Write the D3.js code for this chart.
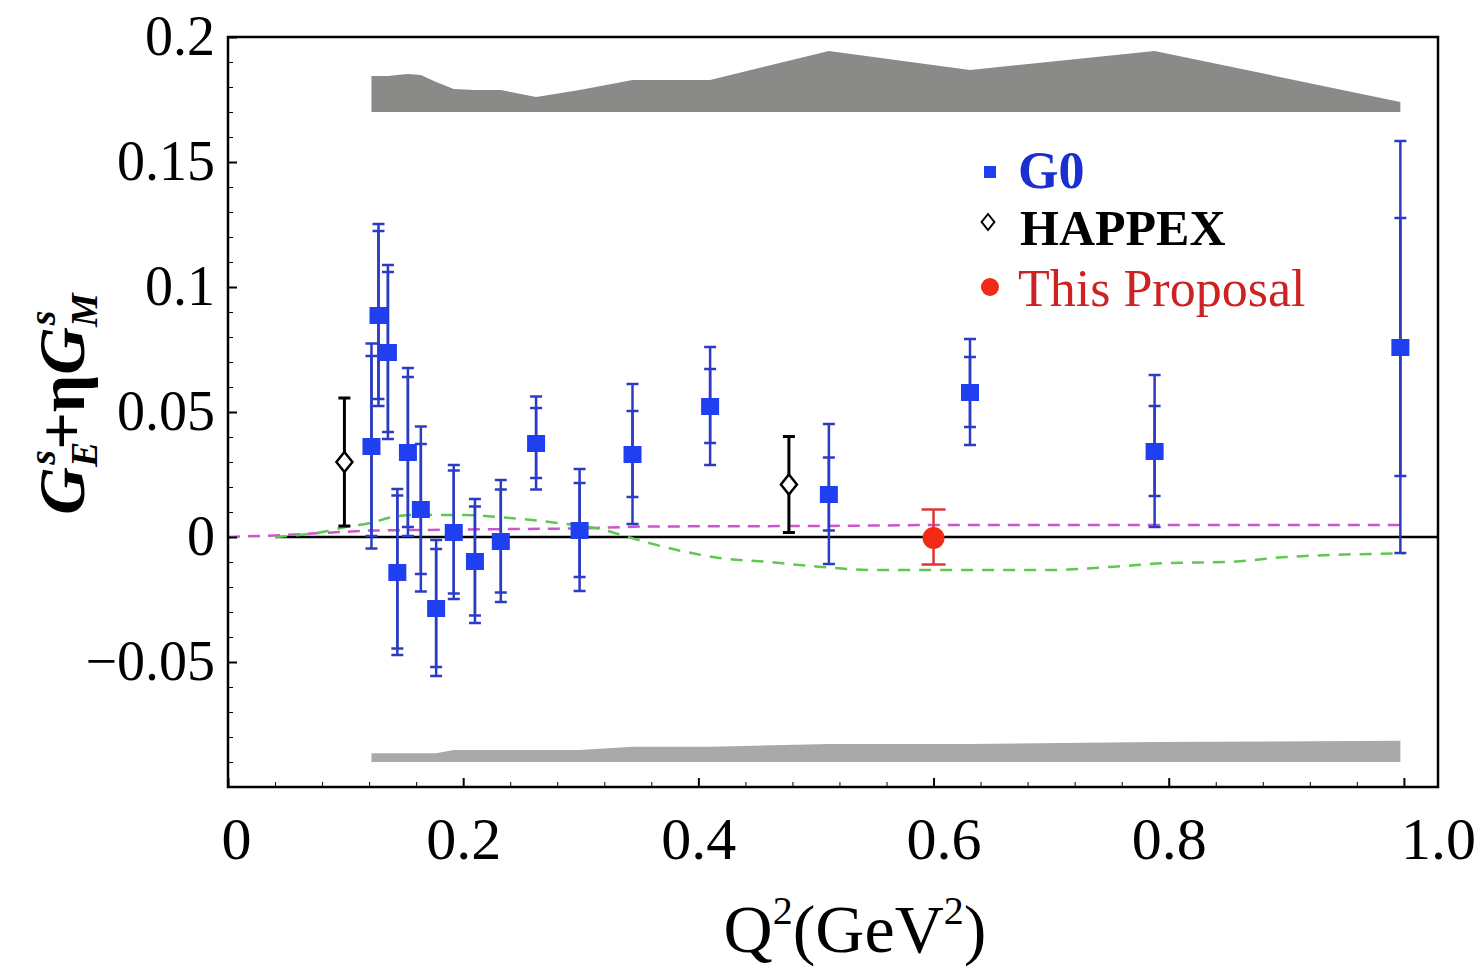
<!DOCTYPE html>
<html>
<head>
<meta charset="utf-8">
<script src="https://cdn.jsdelivr.net/npm/d3@7"></script>
<style>
body { margin: 0; background: #fff; }
text { font-family: "Liberation Serif", "Times New Roman", serif; }
</style>
</head>
<body>
<div class="chart"></div>
<script>
/* global d3 */

// G0 forward angle points
var g0Q    = [0.122, 0.128, 0.136, 0.144, 0.153, 0.164, 0.177, 0.192, 0.210, 0.232, 0.262, 0.299, 0.344, 0.410, 0.511, 0.631, 0.788, 0.997];
var g0Val  = [0.0364, 0.0888, 0.0740, -0.0140, 0.0340, 0.0112, -0.0284, 0.0020, -0.0096, -0.0016, 0.0376, 0.0028, 0.0332, 0.0524, 0.0172, 0.0580, 0.0344, 0.0760];
var g0Stat = [0.0360, 0.0336, 0.0320, 0.0306, 0.0300, 0.0260, 0.0236, 0.0246, 0.0218, 0.0206, 0.0140, 0.0188, 0.0172, 0.0148, 0.0146, 0.0140, 0.0180, 0.0516];
var g0Tot  = [0.0410, 0.0364, 0.0348, 0.0332, 0.0336, 0.0330, 0.0272, 0.0268, 0.0248, 0.0244, 0.0186, 0.0244, 0.0280, 0.0236, 0.0280, 0.0212, 0.0304, 0.0824];

// systematic bands (heights above / below their base)
var topBase = 0.17;
var topBandH = [0.0144, 0.0144, 0.0144, 0.0148, 0.0152, 0.0148, 0.0120, 0.0092, 0.0088, 0.0088, 0.0060, 0.0088, 0.0128, 0.0128, 0.0244, 0.0168, 0.0244, 0.0040];
var botBase = -0.090;
var botBandH = [0.0035, 0.0035, 0.0035, 0.0035, 0.0035, 0.0035, 0.0035, 0.0048, 0.0048, 0.0048, 0.0048, 0.0048, 0.0061, 0.0061, 0.0072, 0.0072, 0.0080, 0.0085];

// HAPPEX
var hapQ = [0.099, 0.477];
var hapVal = [0.030, 0.021];
var hapErr = [0.0256, 0.0192];

// this proposal
var propQ = [0.6];
var propVal = [0.0];
var propErr = [0.011];

// theory curves
var magQ   = [0, 0.04, 0.08, 0.12, 0.2, 0.3, 0.35, 0.5, 0.6, 0.8, 1.0];
var magVal = [0, 0.0006, 0.0016, 0.0026, 0.0030, 0.0034, 0.0042, 0.0044, 0.0048, 0.0048, 0.0048];
var greenQ   = [0.04, 0.08, 0.10, 0.12, 0.14, 0.16, 0.20, 0.24, 0.28, 0.32, 0.34, 0.38, 0.42, 0.46, 0.50, 0.55, 0.60, 0.65, 0.70, 0.75, 0.80, 0.85, 0.90, 0.95, 1.0];
var greenVal = [0, 0.0020, 0.0040, 0.0055, 0.0080, 0.0088, 0.0088, 0.0076, 0.0056, 0.0028, 0.0, -0.0050, -0.0085, -0.0100, -0.0118, -0.0132, -0.0132, -0.0132, -0.0132, -0.0120, -0.0104, -0.0100, -0.0080, -0.0070, -0.0066];
var zeroQ = [0.04, 1.029];

// ticks
var xTicks = [0, 0.2, 0.4, 0.6, 0.8, 1.0];
var yTicks = [-0.05, 0, 0.05, 0.1, 0.15, 0.2];
var legendLabels = ["G0", "HAPPEX", "This Proposal"];

var width = 1484, height = 966;
var svg = d3.select(".chart").append("svg")
  .attr("width", width)
  .attr("height", height);

var x = d3.scaleLinear().domain([0, 1.029]).range([228, 1438]);
var y = d3.scaleLinear().domain([-0.1, 0.2]).range([787, 37]);

// bands
var topArea = d3.area()
  .x(function(d) { return x(d.q); })
  .y0(y(topBase))
  .y1(function(d) { return y(topBase + d.h); });
svg.append("path")
  .datum(g0Q.map(function(q, i) { return {q: q, h: topBandH[i]}; }))
  .attr("d", topArea)
  .attr("fill", "#8a8b89");

var botArea = d3.area()
  .x(function(d) { return x(d.q); })
  .y0(y(botBase))
  .y1(function(d) { return y(botBase + d.h); });
svg.append("path")
  .datum(g0Q.map(function(q, i) { return {q: q, h: botBandH[i]}; }))
  .attr("d", botArea)
  .attr("fill", "#a9a9a9");

// zero line + curves
var line = d3.line()
  .x(function(d) { return x(d.q); })
  .y(function(d) { return y(d.v); });

svg.append("path")
  .datum(zeroQ.map(function(q) { return {q: q, v: 0}; }))
  .attr("d", line)
  .attr("fill", "none")
  .attr("stroke", "black")
  .attr("stroke-width", 2.5);

svg.append("path")
  .datum(magQ.map(function(q, i) { return {q: q, v: magVal[i]}; }))
  .attr("d", line)
  .attr("fill", "none")
  .attr("stroke", "#cc55cc")
  .attr("stroke-width", 2.5)
  .attr("stroke-dasharray", "12,8");

svg.append("path")
  .datum(greenQ.map(function(q, i) { return {q: q, v: greenVal[i]}; }))
  .attr("d", d3.line().curve(d3.curveMonotoneX)
    .x(function(d) { return x(d.q); })
    .y(function(d) { return y(d.v); }))
  .attr("fill", "none")
  .attr("stroke", "#5fc84f")
  .attr("stroke-width", 2.5)
  .attr("stroke-dasharray", "12,9");

// error bar helper
function errBars(g, data, color, lw, capW) {
  g.selectAll(null).data(data).enter().append("line")
    .attr("x1", function(d) { return x(d.q); })
    .attr("x2", function(d) { return x(d.q); })
    .attr("y1", function(d) { return y(d.v + d.e); })
    .attr("y2", function(d) { return y(d.v - d.e); })
    .attr("stroke", color)
    .attr("stroke-width", lw);
  [1, -1].forEach(function(s) {
    g.selectAll(null).data(data).enter().append("line")
      .attr("x1", function(d) { return x(d.q) - capW / 2; })
      .attr("x2", function(d) { return x(d.q) + capW / 2; })
      .attr("y1", function(d) { return y(d.v + s * d.e); })
      .attr("y2", function(d) { return y(d.v + s * d.e); })
      .attr("stroke", color)
      .attr("stroke-width", lw);
  });
}

var g0Outer = g0Q.map(function(q, i) { return {q: q, v: g0Val[i], e: g0Tot[i]}; });
var g0Inner = g0Q.map(function(q, i) { return {q: q, v: g0Val[i], e: g0Stat[i]}; });
var hap = hapQ.map(function(q, i) { return {q: q, v: hapVal[i], e: hapErr[i]}; });
var prop = propQ.map(function(q, i) { return {q: q, v: propVal[i], e: propErr[i]}; });

var gErr = svg.append("g");
errBars(gErr, g0Outer, "#2b3cc4", 2.5, 12);
errBars(gErr, g0Inner, "#2b3cc4", 2.5, 12);
errBars(gErr, hap, "black", 3, 12);
errBars(gErr, prop, "#e03535", 2.5, 24);

// markers
svg.selectAll(".g0").data(g0Outer).enter().append("rect")
  .attr("class", "g0")
  .attr("x", function(d) { return x(d.q) - 9; })
  .attr("y", function(d) { return y(d.v) - 8; })
  .attr("width", 18)
  .attr("height", 17)
  .attr("fill", "#1f3ff0");

var diamond = function(cx, cy, r) {
  return "M" + cx + "," + (cy - r) + "L" + (cx + r * 0.8) + "," + cy +
    "L" + cx + "," + (cy + r) + "L" + (cx - r * 0.8) + "," + cy + "Z";
};
svg.selectAll(".hap").data(hap).enter().append("path")
  .attr("class", "hap")
  .attr("d", function(d) { return diamond(x(d.q), y(d.v), 10); })
  .attr("fill", "white")
  .attr("stroke", "black")
  .attr("stroke-width", 2.5);

svg.selectAll(".prop").data(prop).enter().append("circle")
  .attr("class", "prop")
  .attr("cx", function(d) { return x(d.q); })
  .attr("cy", function(d) { return y(d.v) + 1; })
  .attr("r", 11)
  .attr("fill", "#f02a14");

// axes (inward ticks)
var xMinor = d3.range(0, 1.03, 0.04).filter(function(v) { return Math.abs(v * 5 - Math.round(v * 5)) > 1e-6; });
var yMinor = d3.range(-0.1, 0.2001, 0.01).filter(function(v) { return Math.abs(v * 20 - Math.round(v * 20)) > 1e-6; });

svg.append("g").attr("transform", "translate(0,787)")
  .call(d3.axisBottom(x).tickValues(xMinor).tickSize(-5).tickFormat(""))
  .call(function(g) { g.select(".domain").remove(); });
var xAx = svg.append("g").attr("transform", "translate(0,787)")
  .call(d3.axisBottom(x).tickValues(xTicks).tickSize(-9).tickPadding(29)
    .tickFormat(function(d) { return d === 0 ? "0" : d3.format(".1f")(d); }))
  .call(function(g) { g.select(".domain").remove(); });
xAx.selectAll("text")
  .attr("font-size", 60)
  .attr("font-family", "Liberation Serif")
  .attr("fill", "black")
  .attr("dx", function(d) { return d === 0 ? 8 : (d === 1 ? 34 : (d === 0.6 ? 10 : 0)); });
xAx.selectAll("line").attr("stroke-width", 2);

svg.append("g").attr("transform", "translate(228,0)")
  .call(d3.axisLeft(y).tickValues(yMinor).tickSize(-5).tickFormat(""))
  .call(function(g) { g.select(".domain").remove(); });
var yAx = svg.append("g").attr("transform", "translate(228,0)")
  .call(d3.axisLeft(y).tickValues(yTicks).tickSize(-9).tickPadding(13).tickFormat(d3.format("~g")))
  .call(function(g) { g.select(".domain").remove(); });
yAx.selectAll("text").attr("font-size", 56).attr("font-family", "Liberation Serif").attr("fill", "black");
yAx.selectAll("line").attr("stroke-width", 2);

// frame
svg.append("rect")
  .attr("x", 228).attr("y", 37)
  .attr("width", 1210).attr("height", 750)
  .attr("fill", "none")
  .attr("stroke", "black")
  .attr("stroke-width", 2.5);

// legend
var leg = svg.append("g");
leg.append("rect").attr("x", 984).attr("y", 166).attr("width", 12).attr("height", 12).attr("fill", "#1f3ff0");
leg.append("path").attr("d", diamond(988, 222, 8)).attr("fill", "white").attr("stroke", "black").attr("stroke-width", 2);
leg.append("circle").attr("cx", 990).attr("cy", 287).attr("r", 9).attr("fill", "#f02a14");
leg.append("text").attr("x", 1018).attr("y", 188).attr("font-size", 52).attr("font-weight", "bold")
  .attr("fill", "#1b2fd0").text(legendLabels[0]);
leg.append("text").attr("x", 1020).attr("y", 245).attr("font-size", 50).attr("font-weight", "bold")
  .attr("fill", "black").text(legendLabels[1]);
leg.append("text").attr("x", 1018).attr("y", 306).attr("font-size", 52)
  .attr("fill", "#cc2222").text(legendLabels[2]);

// axis titles
var xt = svg.append("text")
  .attr("x", 855).attr("y", 952)
  .attr("text-anchor", "middle")
  .attr("font-size", 68);
xt.append("tspan").text("Q");
xt.append("tspan").attr("font-size", 40).attr("dy", -28).text("2");
xt.append("tspan").attr("dy", 28).text("(GeV");
xt.append("tspan").attr("font-size", 40).attr("dy", -28).text("2");
xt.append("tspan").attr("dy", 28).text(")");

var yt = svg.append("text")
  .attr("transform", "translate(84,404) rotate(-90)")
  .attr("text-anchor", "middle")
  .attr("font-size", 66)
  .attr("font-weight", "bold");
yt.append("tspan").attr("font-style", "italic").text("G");
yt.append("tspan").attr("font-style", "italic").attr("font-size", 38).attr("dy", 13).text("E");
yt.append("tspan").attr("font-style", "italic").attr("font-size", 38).attr("dx", -23).attr("dy", -42).text("s");
yt.append("tspan").attr("dy", 29).text("+\u03b7");
yt.append("tspan").attr("font-style", "italic").text("G");
yt.append("tspan").attr("font-style", "italic").attr("font-size", 38).attr("dy", 13).text("M");
yt.append("tspan").attr("font-style", "italic").attr("font-size", 38).attr("dx", -32).attr("dy", -42).text("s");
</script>
</body>
</html>
